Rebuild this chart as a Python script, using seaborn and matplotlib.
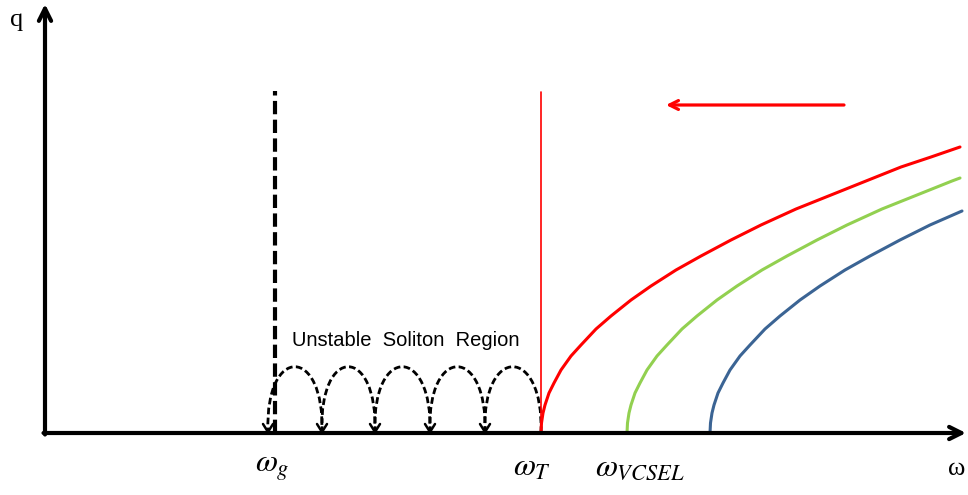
import matplotlib
matplotlib.use("Agg")
import matplotlib.pyplot as plt
import seaborn as sns
import pandas as pd
from matplotlib.path import Path
from matplotlib.patches import PathPatch

# ---------------- data (omega, q) ----------------
red_w = [541, 541.5, 543, 545, 549, 554, 561, 571, 581, 596, 611, 631, 651, 676,
         701, 731, 761, 796, 831, 866, 901, 931, 960]
red_q = [0, 10, 20, 28, 40, 50, 63, 77, 88, 104, 117, 133, 147, 163,
         177, 193, 208, 224, 238, 252, 266, 276, 286]
green_w = [627, 627.5, 629, 631, 635, 640, 647, 657, 667, 682, 697, 717, 737, 762,
           787, 817, 847, 882, 917, 952, 960]
green_q = [0, 10, 20, 28, 40, 50, 63, 77, 88, 104, 117, 133, 147, 163,
           177, 193, 208, 224, 238, 252, 255]
blue_w = [710, 710.5, 712, 714, 718, 723, 730, 740, 750, 765, 780, 800, 820, 845,
          870, 900, 930, 962]
blue_q = [0, 10, 20, 28, 40, 50, 63, 77, 88, 104, 117, 133, 147, 163,
          177, 193, 208, 222]

loop_tips = [268, 322, 375, 430, 485, 541]   # soliton hops (right -> left)
loop_height = 66
omega_g = 275
omega_T = 541
line_top = 342
tick_labels = [r"$\omega_g$", r"$\omega_T$", r"$\omega_{VCSEL}$"]
tick_pos = [272, 532, 640]
region_label = "Unstable  Soliton  Region"

# ---------------- figure ----------------
sns.set_theme(style="white")
plt.rcParams["font.family"] = ["Liberation Sans", "DejaVu Sans"]
plt.rcParams["mathtext.fontset"] = "stix"
plt.rcParams["text.color"] = "black"

fig = plt.figure(figsize=(9.68, 4.95), dpi=100)
ax = fig.add_axes([0, 0, 1, 1])
ax.set_xlim(0, 968)
ax.set_ylim(-62, 433)
ax.axis("off")

# axes arrows
ax.annotate("", xy=(966, 0), xytext=(43.5, 0),
            arrowprops=dict(arrowstyle="->", lw=3, color="black",
                            mutation_scale=22, shrinkA=0, shrinkB=0))
ax.annotate("", xy=(45, 429), xytext=(45, -1.5),
            arrowprops=dict(arrowstyle="->", lw=3, color="black",
                            mutation_scale=22, shrinkA=0, shrinkB=0))
ax.text(17, 413, "q", fontsize=19, family=["Liberation Serif"], ha="center",
        va="center", color="black")
ax.text(957, -36, "ω", fontsize=19, family=["Liberation Serif"], ha="center",
        va="center", color="black")

# curves
for w, q, c in [(red_w, red_q, "#FF0000"), (green_w, green_q, "#92D050"),
                (blue_w, blue_q, "#3B6494")]:
    sns.lineplot(data=pd.DataFrame({"w": w, "q": q}), x="w", y="q", color=c,
                 lw=2.2, sort=False, estimator=None, ax=ax)

# threshold lines
ax.plot([omega_g, omega_g], [0, line_top], color="black", lw=3,
        dashes=(3.2, 1.3), solid_capstyle="butt")
ax.plot([omega_T, omega_T], [0, line_top - 1], color="#FF0000", lw=1.2)

# red direction arrow
ax.annotate("", xy=(666, 328), xytext=(844, 328),
            arrowprops=dict(arrowstyle="->", lw=2.3, color="#FF0000",
                            mutation_scale=16, shrinkA=0, shrinkB=0))

# soliton hops
h = loop_height
for xl, xr in zip(loop_tips[:-1], loop_tips[1:]):
    k = 4.0 / 3.0 * h
    verts = [(xr, 0), (xr + 3, k), (xl - 3, k), (xl, 2)]
    codes = [Path.MOVETO, Path.CURVE4, Path.CURVE4, Path.CURVE4]
    ax.add_patch(PathPatch(Path(verts, codes), fill=False, lw=2.0,
                           edgecolor="black", linestyle=(0, (2.4, 1.2))))
    ax.plot([xl - 5, xl, xl + 5], [9, 1, 9], color="black", lw=1.8,
            solid_joinstyle="miter")

ax.text(406, 92, region_label, fontsize=14.5, ha="center", va="center",
        color="black")

for lab, x in zip(tick_labels, tick_pos):
    ax.text(x, -35, lab, fontsize=23, ha="center", va="center", color="black")

fig.savefig("out.png", dpi=100)
